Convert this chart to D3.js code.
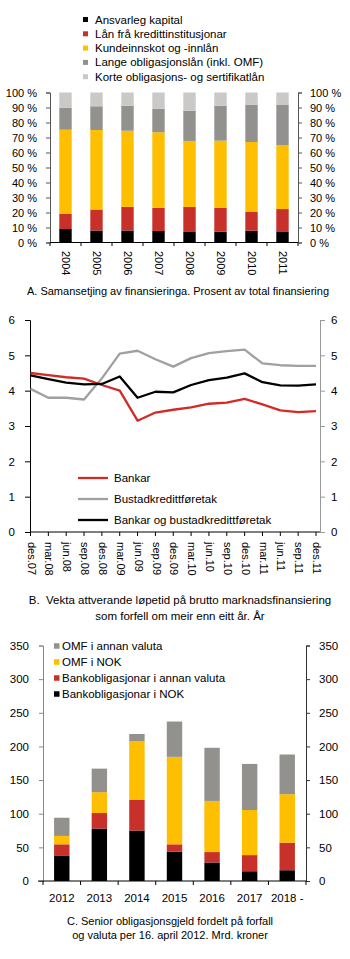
<!DOCTYPE html>
<html><head><meta charset="utf-8">
<script src="https://cdn.jsdelivr.net/npm/d3@7"></script>
<style>
body{margin:0;background:#fff;}
svg{display:block;font-family:"Liberation Sans",Arial,sans-serif;}
text{fill:#000;}
</style></head>
<body><svg id="c" width="350" height="959"></svg>
<script>
// ---------- Panel A data ----------
const yearsA = ["2004","2005","2006","2007","2008","2009","2010","2011"];
const ansvarleg = [9, 8, 8, 7.7, 7.4, 7.2, 7.9, 7.4];
const laanKreditt = [10, 14, 15.7, 15.5, 16.3, 16, 12.7, 14.9];
const kundeinnskot = [56.2, 53, 50.8, 50.3, 44, 44.7, 46.4, 42.7];
const langeOblig = [14.7, 15.8, 16.7, 15.7, 20.2, 23.3, 24.9, 26.7];
const korteOblig = [10.1, 9.2, 8.8, 10.8, 12.1, 8.8, 8.1, 8.3];
const seriesA = ["Ansvarleg kapital","Lån frå kredittinstitusjonar","Kundeinnskot og -innlån","Lange obligasjonslån (inkl. OMF)","Korte obligasjons- og sertifikatlån"];
const ticksA = [0,10,20,30,40,50,60,70,80,90,100];

// ---------- Panel B data ----------
const datesB = ["des.07","mar.08","jun.08","sep.08","des.08","mar.09","jun.09","sep.09","des.09","mar.10","jun.10","sep.10","des.10","mar.11","jun.11","sep.11","des.11"];
const bankar = [4.50,4.44,4.38,4.34,4.16,4.00,3.15,3.38,3.46,3.53,3.63,3.66,3.77,3.61,3.44,3.39,3.42];
const bustad = [4.05,3.80,3.80,3.75,4.35,5.05,5.13,4.89,4.68,4.92,5.06,5.12,5.16,4.77,4.72,4.70,4.70];
const begge = [4.43,4.33,4.23,4.18,4.19,4.40,3.80,3.97,3.95,4.16,4.30,4.37,4.49,4.24,4.15,4.14,4.18];
const seriesB = ["Bankar","Bustadkredittføretak","Bankar og bustadkredittføretak"];
const ticksB = [0,1,2,3,4,5,6];

// ---------- Panel C data ----------
const yearsC = ["2012","2013","2014","2015","2016","2017","2018 -"];
const bankNOK = [38, 78, 75, 43.5, 27.5, 14.5, 16];
const bankAnnan = [16.5, 23, 46, 11, 15.5, 24, 41];
const omfNOK = [12.5, 31, 87, 130, 76, 67, 72];
const omfAnnan = [27, 35, 10.5, 52.5, 79, 68.5, 59];
const seriesC = ["Bankobligasjonar i NOK","Bankobligasjonar i annan valuta","OMF i NOK","OMF i annan valuta"];
const ticksC = [0,50,100,150,200,250,300,350];

const colBlack="#000000", colRed="#c8302a", colYellow="#fdbf00", colDark="#93918e", colLight="#cac9c8";
const axisCol="#555";
const svg = d3.select("#c");
const FS = 11;

// ================= PANEL A =================
(function(){
  const g = svg.append("g");
  const x = d3.scaleBand().domain(yearsA).range([50,298]).paddingInner(0.6).paddingOuter(0.3);
  const y = d3.scaleLinear().domain([0,100]).range([242.5,92.5]);
  const rows = yearsA.map((yr,i)=>({yr, a:ansvarleg[i], b:laanKreditt[i], c:kundeinnskot[i], d:langeOblig[i], e:korteOblig[i]}));
  const stack = d3.stack().keys(["a","b","c","d","e"])(rows);
  const cols = [colBlack,colRed,colYellow,colDark,colLight];
  stack.forEach((s,k)=>{
    g.selectAll(null).data(s).enter().append("rect")
      .attr("x",d=>x(d.data.yr)).attr("width",x.bandwidth())
      .attr("y",d=>y(d[1])).attr("height",d=>y(d[0])-y(d[1]))
      .attr("fill",cols[k]);
  });
  const fmt = d=>d+" %";
  const la = g.append("g").attr("transform","translate(50,0)").call(d3.axisLeft(y).tickValues(ticksA).tickFormat(fmt).tickSize(4).tickPadding(9));
  const ra = g.append("g").attr("transform","translate(298,0)").call(d3.axisRight(y).tickValues(ticksA).tickFormat(fmt).tickSize(4).tickPadding(8));
  [la,ra].forEach(a=>{a.select(".domain").attr("stroke",axisCol);a.selectAll(".tick line").attr("stroke",axisCol);a.selectAll("text").attr("font-size",FS).attr("font-family","Liberation Sans, Arial, sans-serif").attr("fill","#000");});
  g.append("line").attr("x1",50).attr("x2",298).attr("y1",242.5).attr("y2",242.5).attr("stroke","#000");
  const step = (298-50)/yearsA.length;
  g.selectAll(null).data(d3.range(yearsA.length+1)).enter().append("line")
    .attr("x1",i=>50+i*step).attr("x2",i=>50+i*step).attr("y1",242.5).attr("y2",246).attr("stroke","#000");
  g.selectAll(null).data(yearsA).enter().append("text")
    .attr("transform",d=>`translate(${x(d)+x.bandwidth()/2},251) rotate(90)`)
    .attr("dy","0.35em").attr("font-size",FS).text(d=>d);
  const leg = g.append("g");
  seriesA.forEach((s,i)=>{
    const yy = 19.5 + i*14.3;
    leg.append("rect").attr("x",83).attr("y",yy-2.5).attr("width",5).attr("height",5).attr("fill",cols[i]);
    leg.append("text").attr("x",95).attr("y",yy).attr("dy","0.35em").attr("font-size",11.5).text(s);
  });
  g.append("text").attr("x",178).attr("y",295).attr("text-anchor","middle").attr("font-size",FS)
    .text("A. Samansetjing av finansieringa. Prosent av total finansiering");
})();

// ================= PANEL B =================
(function(){
  const g = svg.append("g");
  const x = d3.scalePoint().domain(datesB).range([30.5,316]);
  const y = d3.scaleLinear().domain([0,6]).range([532,320]);
  const f = d3.format("d");
  const la = g.append("g").attr("transform","translate(30,0)").call(d3.axisLeft(y).tickValues(ticksB).tickFormat(f).tickSize(5).tickPadding(10));
  const ra = g.append("g").attr("transform","translate(320,0)").call(d3.axisRight(y).tickValues(ticksB).tickFormat(f).tickSize(5).tickPadding(6));
  la.select(".domain").attr("stroke","#000"); la.selectAll(".tick line").attr("stroke","#000");
  ra.select(".domain").attr("stroke","#999"); ra.selectAll(".tick line").attr("stroke","#999");
  [la,ra].forEach(a=>a.selectAll("text").attr("font-size",FS+0.5).attr("font-family","Liberation Sans, Arial, sans-serif").attr("fill","#000"));
  g.append("line").attr("x1",30).attr("x2",320).attr("y1",532).attr("y2",532).attr("stroke","#000");
  g.selectAll(null).data(datesB).enter().append("line")
    .attr("x1",d=>x(d)).attr("x2",d=>x(d)).attr("y1",532).attr("y2",536).attr("stroke","#000");
  g.selectAll(null).data(datesB).enter().append("text")
    .attr("transform",d=>`translate(${x(d)+1},542) rotate(90)`)
    .attr("dy","0.35em").attr("font-size",FS).text(d=>d);
  const line = d3.line().x((d,i)=>x(datesB[i])).y(d=>y(d));
  const data = [bankar,bustad,begge];
  const cols = ["#d22b26","#a0a0a0","#000"];
  [1,0,2].forEach(k=>{
    g.append("path").datum(data[k]).attr("d",line).attr("fill","none").attr("stroke",cols[k]).attr("stroke-width",2.3).attr("stroke-linejoin","round");
  });
  seriesB.forEach((s,i)=>{
    const yy = 478 + i*21;
    g.append("line").attr("x1",78).attr("x2",108).attr("y1",yy).attr("y2",yy).attr("stroke",cols[i]).attr("stroke-width",2.3);
    g.append("text").attr("x",114).attr("y",yy).attr("dy","0.35em").attr("font-size",11.5).text(s);
  });
  g.append("text").attr("x",180).attr("y",604).attr("text-anchor","middle").attr("font-size",FS+0.5)
    .text("B.\u00A0 Vekta attverande løpetid på brutto marknadsfinansiering");
  g.append("text").attr("x",180).attr("y",620).attr("text-anchor","middle").attr("font-size",FS+0.5)
    .text("som forfell om meir enn eitt år. År");
})();

// ================= PANEL C =================
(function(){
  const g = svg.append("g");
  const x = d3.scaleBand().domain(yearsC).range([43,306]).paddingInner(0.59).paddingOuter(0.295);
  const y = d3.scaleLinear().domain([0,350]).range([881,645.5]);
  const rows = yearsC.map((yr,i)=>({yr, a:bankNOK[i], b:bankAnnan[i], c:omfNOK[i], d:omfAnnan[i]}));
  const stack = d3.stack().keys(["a","b","c","d"])(rows);
  const cols = [colBlack,colRed,colYellow,colDark];
  stack.forEach((s,k)=>{
    g.selectAll(null).data(s).enter().append("rect")
      .attr("x",d=>x(d.data.yr)).attr("width",x.bandwidth())
      .attr("y",d=>y(d[1])).attr("height",d=>y(d[0])-y(d[1]))
      .attr("fill",cols[k]);
  });
  const la = g.append("g").attr("transform","translate(43,0)").call(d3.axisLeft(y).tickValues(ticksC).tickSize(4).tickPadding(10));
  const ra = g.append("g").attr("transform","translate(306,0)").call(d3.axisRight(y).tickValues(ticksC).tickSize(4).tickPadding(9));
  la.select(".domain").attr("stroke","#888"); la.selectAll(".tick line").attr("stroke","#888");
  ra.select(".domain").attr("stroke","#333"); ra.selectAll(".tick line").attr("stroke","#333");
  [la,ra].forEach(a=>a.selectAll("text").attr("font-size",FS+0.5).attr("font-family","Liberation Sans, Arial, sans-serif").attr("fill","#000"));
  g.append("line").attr("x1",38).attr("x2",306).attr("y1",881).attr("y2",881).attr("stroke","#000");
  const step = (306-43)/yearsC.length;
  g.selectAll(null).data(d3.range(yearsC.length+1)).enter().append("line")
    .attr("x1",i=>43+i*step).attr("x2",i=>43+i*step).attr("y1",881).attr("y2",885).attr("stroke","#000");
  g.selectAll(null).data(yearsC).enter().append("text")
    .attr("x",d=>x(d)+x.bandwidth()/2).attr("y",902).attr("text-anchor","middle").attr("font-size",FS+0.5).text(d=>d);
  const order = [3,2,1,0];
  order.forEach((k,i)=>{
    const yy = 646 + i*16;
    g.append("rect").attr("x",54).attr("y",yy-2.75).attr("width",5.5).attr("height",5.5).attr("fill",cols[k]);
    g.append("text").attr("x",62).attr("y",yy).attr("dy","0.35em").attr("font-size",11.5).text(seriesC[k]);
  });
  g.append("text").attr("x",170).attr("y",925).attr("text-anchor","middle").attr("font-size",FS)
    .text("C. Senior obligasjonsgjeld fordelt på forfall");
  g.append("text").attr("x",170).attr("y",939).attr("text-anchor","middle").attr("font-size",FS)
    .text("og valuta per 16. april 2012. Mrd. kroner");
})();
</script></body></html>
